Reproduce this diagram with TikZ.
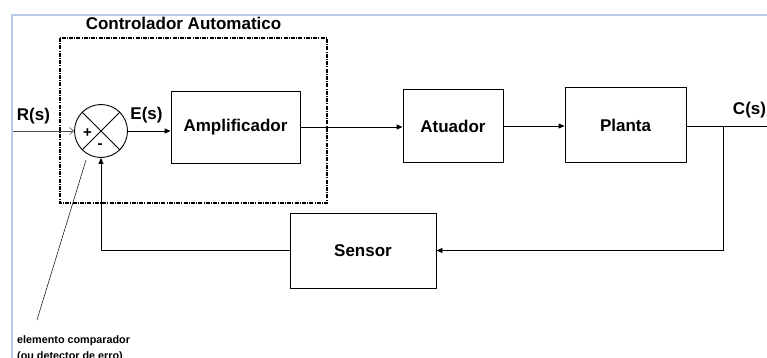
\documentclass[tikz,border=0pt]{standalone}
\usepackage{fontspec}
\setmainfont{Liberation Sans}
\usetikzlibrary{arrows.meta}
\definecolor{framecol}{RGB}{184,204,232}
\begin{document}
\begin{tikzpicture}[x=1pt,y=-1pt,
  big/.style={font=\bfseries\fontsize{17}{20}\selectfont},
  blk/.style={draw, line width=0.9pt, inner sep=0pt, big},
  lbl/.style={inner sep=0pt, big},
  conn/.style={line width=0.9pt},
  tip/.style={conn, -{Triangle[length=6pt,width=5pt]}},
  opentip/.style={line width=0.6pt, draw=black!70, -{Straight Barb[length=4pt,width=7pt]}},
  ctrlbox/.style={line width=1.2pt, dash pattern=on 4pt off 1.2pt on 1pt off 1.2pt}
]
\useasboundingbox (0,0) rectangle (767,358);
\clip (0,0) rectangle (767,358);
% outer frame
\draw[framecol, line width=1.5pt] (12,358) -- (12,15) -- (767,15);
% controller box
\node[lbl] (title) at (183.5,23) {Controlador Automatico};
\draw[ctrlbox] (60,38) rectangle (327,203);
% summing junction
\node[draw, circle, line width=0.9pt, minimum size=53pt, inner sep=0pt] (sum) at (101,131) {};
\draw[line width=0.9pt] (sum.north west) -- (sum.south east);
\draw[line width=0.9pt] (sum.north east) -- (sum.south west);
\node[inner sep=0pt, font=\bfseries\fontsize{15}{17}\selectfont] (plus) at (87.5,133) {+};
\node[inner sep=0pt, font=\bfseries\fontsize{15}{17}\selectfont] (minus) at (100,146.5) {-};
% blocks
\node[blk, minimum width=129pt, minimum height=72pt] (amp) at (235.5,127) {Amplificador};
\node[blk, minimum width=100pt, minimum height=73pt] (atu) at (453,126) {Atuador};
\node[blk, minimum width=121pt, minimum height=75pt] (pla) at (625.5,125) {Planta};
\node[blk, minimum width=146pt, minimum height=75pt] (sen) at (363,250.5) {Sensor};
% labels
\node[lbl] (rs) at (33.5,116) {R(s)};
\node[lbl] (es) at (146.5,115) {E(s)};
\node[lbl] (cs) at (749.5,110) {C(s)};
% connectors
\coordinate (rin) at (13,131);
\draw[opentip] (rin) -- (sum.west);
\draw[tip] (sum.east) -- (sum.east -| amp.west);
\draw[tip] (amp.east) -- (amp.east -| atu.west);
\draw[tip] (atu.east) -- (atu.east -| pla.west);
\coordinate (br) at (723,126);
\coordinate (cout) at (767,126);
\draw[conn] (pla.east |- br) -- (cout);
\draw[tip] (br) |- (sen.east);
\draw[tip] (sen.west) -| (sum.south);
% annotation
\coordinate (annA) at (37,320);
\coordinate (annB) at (86,160);
\draw[line width=0.5pt] (annA) -- (annB);
\node[anchor=north west, align=left, inner sep=0pt, font=\bfseries\fontsize{10.8}{15.5}\selectfont] (note) at (17,335.5) {elemento comparador\\(ou detector de erro)};
\end{tikzpicture}
\end{document}
